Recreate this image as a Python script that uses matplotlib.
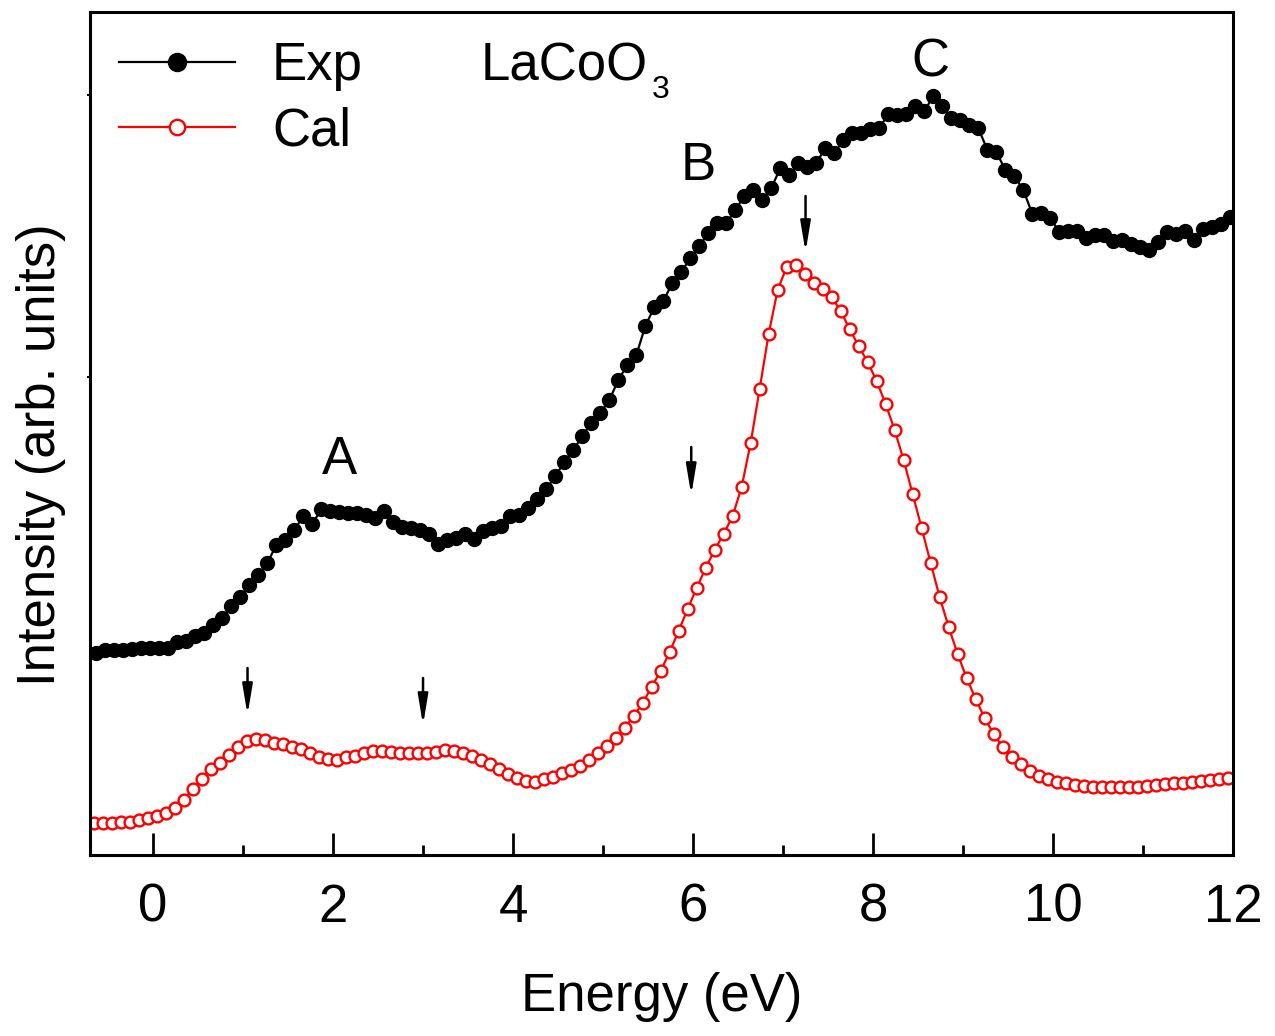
import numpy as np
import matplotlib
matplotlib.use("Agg")
import matplotlib.pyplot as plt

plt.rcParams['font.family'] = ['Liberation Sans', 'DejaVu Sans']

# == Data (arb. units) == #
e_exp = np.round(-0.63 + 0.1 * np.arange(127), 2)
i_exp = [202, 205, 205, 205, 206, 207, 207, 207, 207, 213,
         214, 219, 222, 230, 237, 249, 258, 270, 280, 292,
         310, 315, 325, 339, 331, 346, 344, 343, 342, 342,
         340, 337, 344, 333, 328, 327, 325, 321, 311, 315,
         317, 321, 316, 324, 327, 329, 339, 340, 347, 356,
         366, 379, 393, 405, 419, 432, 442, 455, 475, 490,
         500, 529, 548, 554, 572, 583, 597, 609, 622, 632,
         632, 645, 659, 665, 655, 667, 687, 680, 692, 688,
         692, 707, 702, 715, 722, 722, 726, 727, 741, 740,
         741, 749, 744, 759, 749, 737, 735, 730, 727, 705,
         703, 685, 679, 665, 641, 642, 637, 623, 624, 624,
         617, 620, 620, 614, 615, 611, 608, 605, 613, 623,
         621, 624, 615, 626, 628, 631, 638]

e_cal = np.round(-0.66 + 0.1 * np.arange(127), 2)
i_cal = [32, 32, 32, 33, 33, 35, 37, 39, 42, 47,
         55, 66, 76, 86, 92, 100, 108, 114, 116, 115,
         112, 111, 108, 106, 102, 98, 96, 95, 98, 99,
         102, 104, 104, 103, 102, 102, 102, 102, 103, 105,
         104, 102, 99, 95, 91, 86, 81, 77, 74, 73,
         76, 78, 82, 85, 89, 95, 102, 109, 117, 127,
         139, 152, 168, 184, 203, 224, 246, 267, 287, 305,
         321, 339, 368, 412, 466, 521, 565, 588, 590, 581,
         572, 566, 558, 544, 526, 509, 493, 474, 451, 425,
         395, 361, 327, 292, 258, 228, 201, 177, 156, 137,
         121, 108, 98, 91, 84, 79, 76, 73, 72, 70,
         69, 68, 68, 68, 68, 68, 68, 69, 70, 71,
         72, 72, 73, 74, 75, 76, 77]

# arrows: (energy, tail, head)
arrows = [(1.05, 187, 140), (3.0, 177, 130), (5.98, 408, 360), (7.25, 659, 603)]
# peak labels: (text, energy, baseline)
peaks = [('A', 2.07, 381), ('B', 6.06, 675), ('C', 8.64, 779)]

fs = 38

fig = plt.figure(figsize=(12.75, 10.36), dpi=100)
ax = fig.add_axes([0.0706, 0.1747, 0.8965, 0.8137])

ax.plot(e_exp, i_exp, '-o', color='black', lw=1.6, ms=10, label='Exp')
ax.plot(e_cal, i_cal, '-o', color='red', lw=1.6, ms=8.5, mfc='white',
        mec='red', mew=1.7, label='Cal')

for e, y0, y1 in arrows:
    ax.annotate('', xy=(e, y1), xytext=(e, y0),
                arrowprops=dict(arrowstyle='-|>,head_length=1.8,head_width=0.3',
                                color='black', lw=1.8, shrinkA=0, shrinkB=0))

for txt, e, y in peaks:
    ax.text(e, y, txt, fontsize=fs, ha='center', va='baseline')
ax.text(3.64, 775, 'LaCoO', fontsize=fs, va='baseline')
ax.text(5.54, 757, '3', fontsize=23, va='baseline')

ax.set_xlim(-0.7, 12)
ax.set_ylim(0, 843)
ax.set_xticks(np.arange(0, 13, 2))
ax.set_xticks(np.arange(0, 13, 1), minor=True)
ax.set_yticks([478, 760])
ax.set_yticklabels([])
ax.tick_params(axis='x', which='major', direction='in', length=16, width=2,
               labelsize=fs, pad=20)
ax.tick_params(axis='x', which='minor', direction='in', length=7, width=2)
ax.tick_params(axis='y', direction='out', length=2, width=1.5)
for s in ax.spines.values():
    s.set_linewidth(2.2)

ax.set_xlabel('Energy (eV)', fontsize=fs, labelpad=28)
ax.set_ylabel('Intensity (arb. units)', fontsize=fs)
ax.yaxis.set_label_coords(-0.021, 0.4745)

ax.legend(loc='upper left', frameon=False, fontsize=fs, handlelength=2.2,
          handletextpad=0.7, labelspacing=0.3, borderaxespad=0.05,
          borderpad=0.5, markerscale=1.3,
          bbox_to_anchor=(0.0, 1.0), numpoints=1)

fig.savefig('out.png', dpi=100)
